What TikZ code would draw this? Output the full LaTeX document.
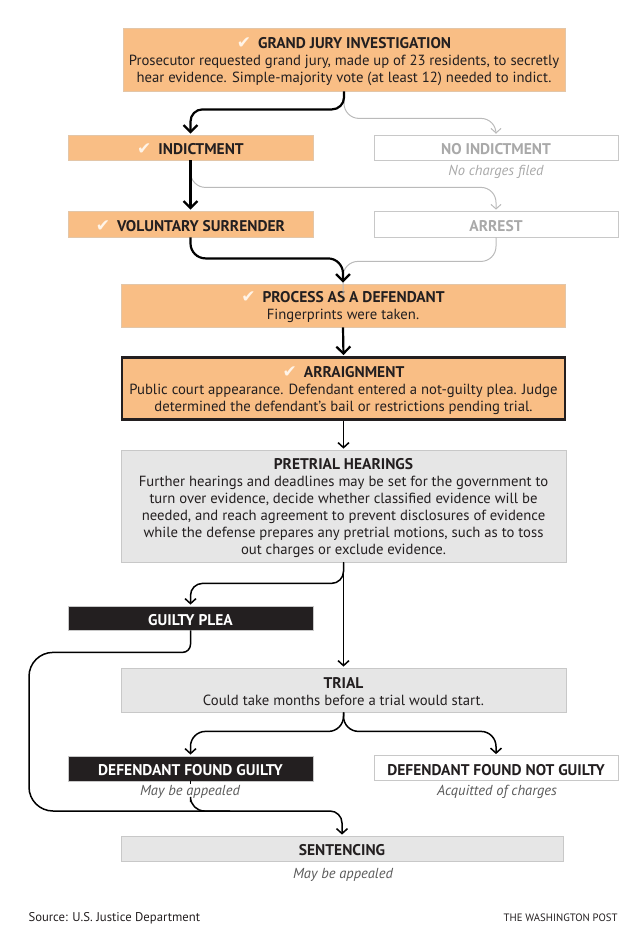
\documentclass[tikz,border=0pt]{standalone}
\usepackage{fontspec}
\setmainfont{PT Sans}
\newfontfamily\symfont{DejaVu Sans}
\usetikzlibrary{arrows.meta}
\usetikzlibrary{positioning}
\definecolor{orangefill}{HTML}{F9BE85}
\definecolor{orangeline}{HTML}{E3C6A8}
\definecolor{greyfill}{HTML}{E6E6E6}
\definecolor{greyline}{HTML}{C8C8C8}
\definecolor{inkblack}{HTML}{231F20}
\definecolor{faded}{HTML}{A9A9A9}
\definecolor{notegrey}{HTML}{5A5A5A}
\definecolor{checkwhite}{HTML}{FFF4E8}
\newcommand{\chk}{{\symfont\fontsize{17}{17}\selectfont\color{checkwhite}✔}\hspace{7pt}}
\newcommand{\headline}[1]{{\fontsize{15.5}{17}\selectfont\bfseries\rule{0pt}{15pt}#1}}
\tikzstyle{stage} = [rectangle, inner sep=0pt, align=center, text=inkblack,
    font=\fontsize{14.7}{17}\selectfont]
\tikzstyle{done} = [stage, fill=orangefill, draw=orangeline, line width=0.8pt]
\tikzstyle{ahead} = [stage, fill=greyfill, draw=greyline, line width=0.8pt]
\tikzstyle{verdict} = [stage, fill=inkblack, draw=greyline, text=white, line width=0.8pt,
    minimum width=245pt, minimum height=25pt]
\tikzstyle{skipped} = [stage, fill=white, draw=greyline, text=faded, line width=0.8pt,
    minimum width=244pt, minimum height=25pt]
\tikzstyle{note} = [font=\fontsize{14.5}{17}\selectfont\itshape, text=notegrey]
\tikzstyle{arrow} = [line width=2.2pt, shorten >=1pt, -{Straight Barb[length=7pt,width=14pt]}]
\tikzstyle{thinarrow} = [line width=1.5pt, shorten >=1pt, -{Straight Barb[length=5pt,width=11pt]}]
\tikzstyle{fadedarrow} = [line width=1pt, draw=faded!80, shorten >=1pt,
    -{Straight Barb[length=4.5pt,width=10pt]}]

\begin{document}
\begin{tikzpicture}[x=1pt, y=-1pt]
\useasboundingbox (0,0) rectangle (644,940);

\node (jury) [done, minimum width=442pt, minimum height=63pt] at (344,59.5) {
    \chk\headline{GRAND JURY INVESTIGATION} \\
    Prosecutor requested grand jury, made up of 23 residents, to secretly \\
    hear evidence. Simple-majority vote (at least 12) needed to indict.
};

\node (indict) [done, minimum width=245pt, minimum height=25pt] at (190.5,147.5)
    {\chk\headline{INDICTMENT}};
\node (noindict) [skipped] at (496,147.5) {\headline{NO INDICTMENT}};
\node (nocharge) [note, text=faded] at (496,172) {No charges filed};

\node (surrender) [done, minimum width=245pt, minimum height=26pt] at (190.5,224)
    {\chk\headline{VOLUNTARY SURRENDER}};
\node (arrest) [skipped, minimum height=26pt] at (496,224) {\headline{ARREST}};

\node (process) [done, minimum width=444pt, minimum height=43pt] at (343,305.5) {
    \chk\headline{PROCESS AS A DEFENDANT} \\
    Fingerprints were taken.
};

\node (arraign) [done, draw=inkblack, line width=2.8pt, minimum width=443pt,
    minimum height=62pt] at (343.5,388.5) {
    \chk\headline{ARRAIGNMENT} \\
    Public court appearance. Defendant entered a not-guilty plea. Judge \\
    determined the defendant's bail or restrictions pending trial.
};

\node (pretrial) [ahead, minimum width=445pt, minimum height=112pt] at (343.5,506) {
    \headline{PRETRIAL HEARINGS} \\
    Further hearings and deadlines may be set for the government to \\
    turn over evidence, decide whether classified evidence will be \\
    needed, and reach agreement to prevent disclosures of evidence \\
    while the defense prepares any pretrial motions, such as to toss \\
    out charges or exclude evidence.
};

\node (plea) [verdict, minimum height=24pt] at (190.5,618) {\headline{GUILTY PLEA}};

\node (trial) [ahead, minimum width=445pt, minimum height=44pt] at (343.5,690) {
    \headline{TRIAL} \\
    Could take months before a trial would start.
};

\node (guilty) [verdict] at (190.5,768.5) {\headline{DEFENDANT FOUND GUILTY}};
\node (notguilty) [skipped, text=inkblack] at (496,768) {\headline{DEFENDANT FOUND NOT GUILTY}};
\node (appealone) [note] at (190,792) {May be appealed};
\node (acquit) [note] at (497,792) {Acquitted of charges};

\node (sentence) [ahead, minimum width=442pt, minimum height=25pt] at (342,848.5)
    {\headline{SENTENCING}};
\node (appealtwo) [note] at (343,875) {May be appealed};

\node (source) [anchor=west, font=\fontsize{12.7}{15}\selectfont, text=inkblack]
    at (25,918) {Source: U.S. Justice Department};
\node (credit) [anchor=east, font=\fontsize{10.7}{13}\selectfont, text=inkblack]
    at (621,918) {THE WASHINGTON POST};

\coordinate (loopcorner) at (29,811);

% paths not taken
\draw [fadedarrow, rounded corners=15pt] (jury.south) -- ++(0,27) -| (noindict.north);
\draw [fadedarrow, rounded corners=15pt] (indict.south) -- ++(0,27) -| (arrest.north);
\draw [line width=1pt, draw=faded!80, rounded corners=15pt]
    (arrest.south) -- ++(0,24) -| ([yshift=-12pt]process.north);

% path taken
\draw [arrow, rounded corners=12pt] (jury.south) -- ++(0,18) -| (indict.north);
\draw [arrow] (indict.south) -- (surrender.north);
\draw [arrow, rounded corners=15pt] (surrender.south) -- ++(0,21) -| (process.north);
\draw [arrow] (process.south) -- (arraign.north);
\draw [thinarrow] (arraign.south) -- (pretrial.north);

% after the hearings
\draw [thinarrow, rounded corners=12pt] (pretrial.south) -- ++(0,21) -| (plea.north);
\draw [thinarrow] (pretrial.south) -- (trial.north);
\draw [thinarrow, rounded corners=8pt] (plea.south) -- ++(0,22)
    [rounded corners=24pt] -| (loopcorner) [rounded corners=12pt] -| (sentence.north);
\draw [thinarrow, rounded corners=15pt] (trial.south) -- ++(0,19) -| (guilty.north);
\draw [thinarrow, rounded corners=15pt] (trial.south) -- ++(0,19) -| (notguilty.north);
\draw [line width=1.5pt] (guilty.south) -- ++(0,3);
\draw [line width=1.5pt, rounded corners=14pt]
    (appealone.south -| guilty.south) |- ([xshift=40pt]appealone.south |- loopcorner);
\end{tikzpicture}
\end{document}
